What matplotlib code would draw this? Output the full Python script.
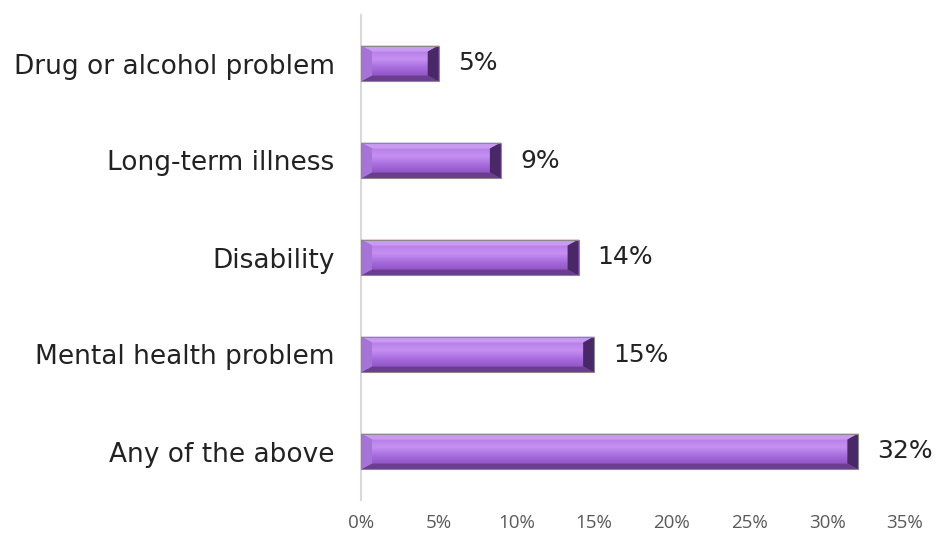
import numpy as np
import matplotlib
matplotlib.use("Agg")
import matplotlib.pyplot as plt
from matplotlib.patches import Polygon
from matplotlib.colors import LinearSegmentedColormap

categories = ["Drug or alcohol problem", "Long-term illness", "Disability",
              "Mental health problem", "Any of the above"]
values = [5, 9, 14, 15, 32]
value_labels = ["5%", "9%", "14%", "15%", "32%"]
x_ticks = [0, 5, 10, 15, 20, 25, 30, 35]
x_tick_labels = ["0%", "5%", "10%", "15%", "20%", "25%", "30%", "35%"]

W, H, DPI = 938, 540, 100
fig = plt.figure(figsize=(W / DPI, H / DPI), dpi=DPI)
ax = fig.add_axes([361 / W, 1 - 500 / H, (905 - 361) / W, (500 - 15) / H])

bar_h = 0.37
pos = np.arange(len(categories))
bars = ax.barh(pos, values, height=bar_h, color="#9d62d4", edgecolor="none", zorder=2)

ax.set_xlim(0, 35)
ax.set_ylim(len(categories) - 0.5, -0.5)

# pixel-size bevel widths expressed in data units
ax_w_px = (905 - 361)
ax_h_px = (500 - 15)
px_x = 35 / ax_w_px
px_y = len(categories) / ax_h_px
bx = 11 * px_x
by = 6 * px_y

face_cmap = LinearSegmentedColormap.from_list(
    "face", ["#b680ea", "#c690f2", "#a96fde", "#9457c9"])

for rect, v in zip(bars, values):
    x0 = rect.get_x()
    x1 = x0 + rect.get_width()
    yt = rect.get_y()               # visual top (axis is inverted)
    yb = yt + rect.get_height()     # visual bottom
    # central face with a soft vertical gradient
    grad = np.linspace(0, 1, 64).reshape(-1, 1)
    ax.imshow(grad, cmap=face_cmap, aspect="auto",
              extent=(x0 + bx, x1 - bx, yb - by, yt + by),
              origin="upper", zorder=3, interpolation="bilinear")
    top = Polygon([(x0, yt), (x1, yt), (x1 - bx, yt + by), (x0 + bx, yt + by)],
                  closed=True, facecolor="#c99bf0", edgecolor="none", zorder=4)
    bottom = Polygon([(x0, yb), (x1, yb), (x1 - bx, yb - by), (x0 + bx, yb - by)],
                     closed=True, facecolor="#6a3d8e", edgecolor="none", zorder=4)
    left = Polygon([(x0, yt), (x0 + bx, yt + by), (x0 + bx, yb - by), (x0, yb)],
                   closed=True, facecolor="#a673d6", edgecolor="none", zorder=4)
    right = Polygon([(x1, yt), (x1 - bx, yt + by), (x1 - bx, yb - by), (x1, yb)],
                    closed=True, facecolor="#4a2766", edgecolor="none", zorder=4)
    for p in (top, bottom, left, right):
        ax.add_patch(p)
    outline = Polygon([(x0, yt), (x1, yt), (x1, yb), (x0, yb)], closed=True,
                      facecolor="none", edgecolor="#8a8a8a", linewidth=0.8, zorder=5)
    ax.add_patch(outline)

for y, v, lab in zip(pos, values, value_labels):
    ax.text(v + 19 * px_x, y, lab, va="center", ha="left",
            fontsize=18, color="#222222", family="DejaVu Sans")

ax.set_yticks(pos)
ax.set_yticklabels(categories, fontsize=19, color="#222222", family="DejaVu Sans")
ax.tick_params(axis="y", length=0, pad=19)

ax.set_xticks(x_ticks)
ax.set_xticklabels(x_tick_labels, fontsize=13.5, color="#595959", family="Open Sans")
ax.tick_params(axis="x", length=0, pad=10)

for s in ("top", "right", "bottom"):
    ax.spines[s].set_visible(False)
ax.spines["left"].set_color("#d9d9d9")
ax.spines["left"].set_linewidth(1.5)

fig.savefig("out.png", dpi=DPI)
